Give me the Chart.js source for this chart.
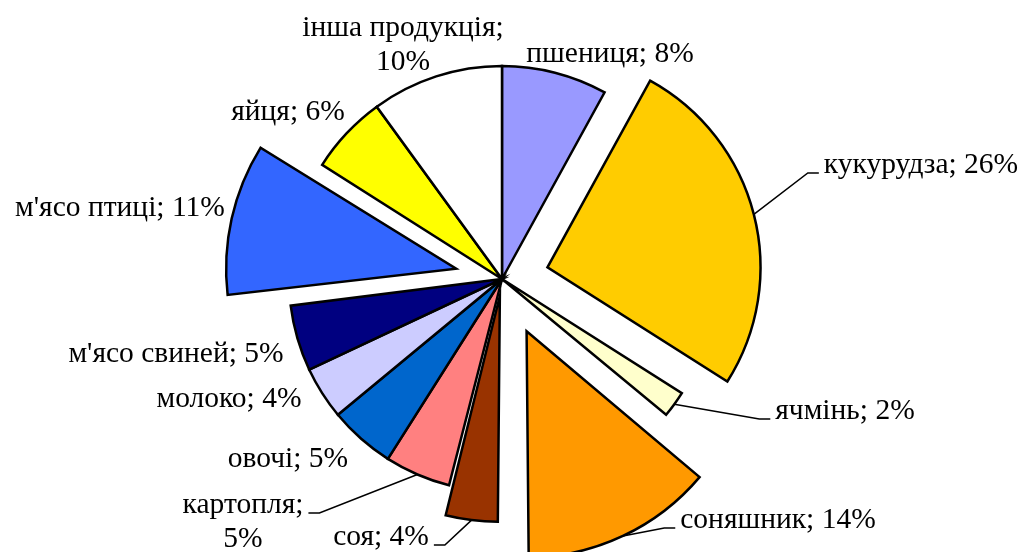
<!DOCTYPE html>
<html>
<head>
<meta charset="utf-8">
<script src="https://cdn.jsdelivr.net/npm/chart.js@4.4.1/dist/chart.umd.min.js"></script>
<style>
  html, body { margin: 0; padding: 0; background: #fff; }
  #wrap { width: 1030px; height: 552px; position: relative; }
</style>
</head>
<body>
<div id="wrap"><canvas id="chart"></canvas></div>
<script>
"use strict";

// структура товарної продукції, %
const categories = ["пшениця", "кукурудза", "ячмінь", "соняшник", "соя", "картопля",
  "овочі", "молоко", "м'ясо свиней", "м'ясо птиці", "яйця", "інша продукція"];
const shares = [8, 26, 2, 14, 4, 5, 5, 4, 5, 11, 6, 10];

const colours = ["#9999FF", "#FFCC00", "#FFFFCC", "#FF9900", "#993300", "#FF8080",
  "#0066CC", "#CCCCFF", "#000080", "#3366FF", "#FFFF00", "#FFFFFF"];

// how far each slice is pulled out of the pie, px
const explode = [0, 47, 0, 71, 30, 0, 0, 0, 0, 64, 0, 0];

// where each label sits: centre x and baseline of the first line
const labelAt = [
  { x: 610, y: 62 },
  { x: 921, y: 173, lead: "left" },
  { x: 845, y: 419, lead: "left" },
  { x: 778, y: 528, lead: "left" },
  { x: 381, y: 545, lead: "right" },
  { x: 243, y: 513, lead: "right", wrap: true },
  { x: 288, y: 467 },
  { x: 229, y: 407 },
  { x: 176, y: 362 },
  { x: 120, y: 216 },
  { x: 288, y: 120 },
  { x: 403, y: 36, wrap: true }
];

const FONT = '29.5px "Liberation Serif", "Times New Roman", serif';
const LINE_H = 34;

const total = shares.reduce((a, b) => a + b, 0);

// Chart.js moves an arc by offset/4 * (1 + fix), so turn pixels into its offset
function toOffset(px, share) {
  const circ = share / total * 2 * Math.PI;
  const fix = 1 - Math.sin(Math.min(Math.PI, circ));
  return px * 4 / (1 + fix);
}

const labelPlugin = {
  id: "sliceLabels",
  afterDatasetsDraw(chart) {
    const ctx = chart.ctx;
    const meta = chart.getDatasetMeta(0);
    ctx.save();
    ctx.font = FONT;
    ctx.fillStyle = "#000";
    ctx.strokeStyle = "#000";
    ctx.lineWidth = 1.5;
    ctx.textAlign = "center";
    ctx.textBaseline = "alphabetic";

    meta.data.forEach(function (arc, i) {
      const pos = labelAt[i];
      const txt = categories[i] + "; " + shares[i] + "%";
      const lines = pos.wrap ? [categories[i] + ";", shares[i] + "%"] : [txt];

      lines.forEach(function (line, k) {
        ctx.fillText(line, pos.x, pos.y + k * LINE_H);
      });

      if (pos.lead) {
        const p = arc.getProps(["x", "y", "startAngle", "endAngle", "outerRadius"], true);
        const mid = (p.startAngle + p.endAngle) / 2;
        const r = p.outerRadius + explode[i];
        const ax = p.x + Math.cos(mid) * r;
        const ay = p.y + Math.sin(mid) * r;
        const w = ctx.measureText(lines[0]).width;
        const edge = pos.lead === "left" ? pos.x - w / 2 : pos.x + w / 2;
        const dir = pos.lead === "left" ? -1 : 1;
        ctx.beginPath();
        ctx.moveTo(ax, ay);
        ctx.lineTo(edge + dir * 16, pos.y);
        ctx.lineTo(edge + dir * 5, pos.y);
        ctx.stroke();
      }
    });
    ctx.restore();
  }
};

const chart = new Chart(document.getElementById("chart"), {
  type: "pie",
  data: {
    labels: categories,
    datasets: [{
      data: shares,
      backgroundColor: colours,
      borderColor: "#000",
      borderWidth: 2.5,
      borderJoinStyle: "miter",
      offset: shares.map((v, i) => toOffset(explode[i], v)),
      hoverOffset: 0,
      radius: 213,
      clip: false
    }]
  },
  options: {
    responsive: true,
    maintainAspectRatio: false,
    animation: false,
    events: [],
    layout: { padding: { left: 0, top: 6, right: 26, bottom: 0 } },
    plugins: {
      legend: { display: false },
      tooltip: { enabled: false }
    }
  },
  plugins: [labelPlugin]
});
</script>
</body>
</html>
